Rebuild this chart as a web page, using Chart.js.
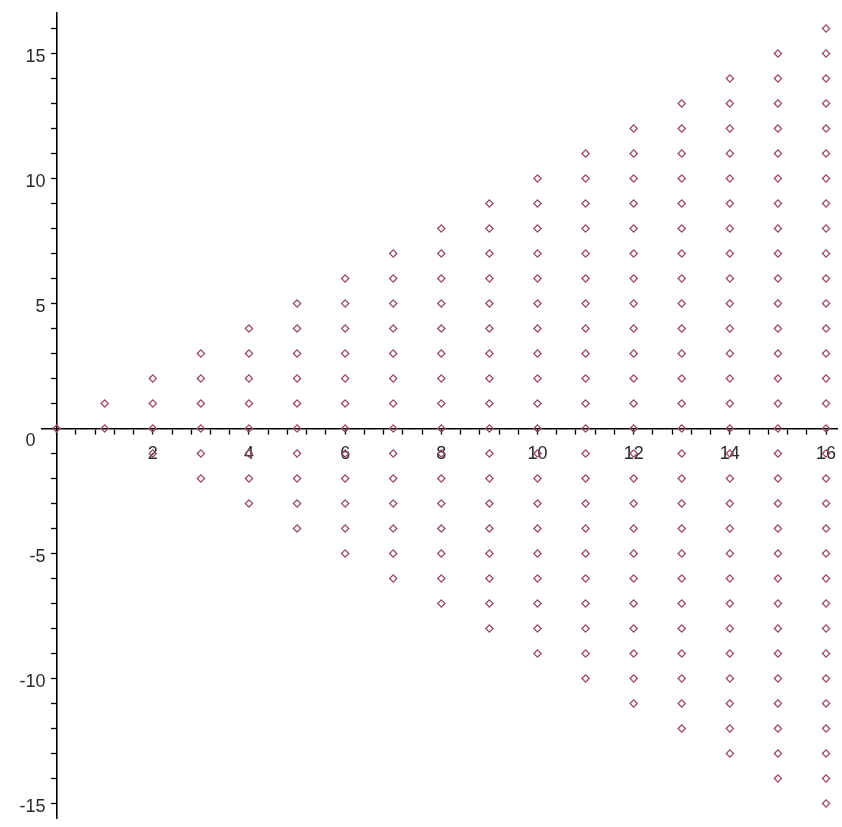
<!DOCTYPE html>
<html>
<head>
<meta charset="utf-8">
<script src="https://cdn.jsdelivr.net/npm/chart.js@4/dist/chart.umd.min.js"></script>
<style>
  html, body { margin: 0; padding: 0; background: #ffffff; }
  canvas { display: block; }
</style>
</head>
<body>
<canvas id="c" width="842" height="827"></canvas>
<script>
// Column x positions and the y-values of the points in each column
const colX = [0, 1, 2, 3, 4, 5, 6, 7, 8, 9, 10, 11, 12, 13, 14, 15, 16];
const col0 = [0];
const col1 = [0, 1];
const col2 = [-1, 0, 1, 2];
const col3 = [-2, -1, 0, 1, 2, 3];
const col4 = [-3, -2, -1, 0, 1, 2, 3, 4];
const col5 = [-4, -3, -2, -1, 0, 1, 2, 3, 4, 5];
const col6 = [-5, -4, -3, -2, -1, 0, 1, 2, 3, 4, 5, 6];
const col7 = [-6, -5, -4, -3, -2, -1, 0, 1, 2, 3, 4, 5, 6, 7];
const col8 = [-7, -6, -5, -4, -3, -2, -1, 0, 1, 2, 3, 4, 5, 6, 7, 8];
const col9 = [-8, -7, -6, -5, -4, -3, -2, -1, 0, 1, 2, 3, 4, 5, 6, 7, 8, 9];
const col10 = [-9, -8, -7, -6, -5, -4, -3, -2, -1, 0, 1, 2, 3, 4, 5, 6, 7, 8, 9, 10];
const col11 = [-10, -9, -8, -7, -6, -5, -4, -3, -2, -1, 0, 1, 2, 3, 4, 5, 6, 7, 8, 9, 10, 11];
const col12 = [-11, -10, -9, -8, -7, -6, -5, -4, -3, -2, -1, 0, 1, 2, 3, 4, 5, 6, 7, 8, 9, 10, 11, 12];
const col13 = [-12, -11, -10, -9, -8, -7, -6, -5, -4, -3, -2, -1, 0, 1, 2, 3, 4, 5, 6, 7, 8, 9, 10, 11, 12, 13];
const col14 = [-13, -12, -11, -10, -9, -8, -7, -6, -5, -4, -3, -2, -1, 0, 1, 2, 3, 4, 5, 6, 7, 8, 9, 10, 11, 12, 13, 14];
const col15 = [-14, -13, -12, -11, -10, -9, -8, -7, -6, -5, -4, -3, -2, -1, 0, 1, 2, 3, 4, 5, 6, 7, 8, 9, 10, 11, 12, 13, 14, 15];
const col16 = [-15, -14, -13, -12, -11, -10, -9, -8, -7, -6, -5, -4, -3, -2, -1, 0, 1, 2, 3, 4, 5, 6, 7, 8, 9, 10, 11, 12, 13, 14, 15, 16];
const columns = [col0, col1, col2, col3, col4, col5, col6, col7, col8, col9, col10, col11, col12, col13, col14, col15, col16];

// Axis ticks
const xTickLabels = [2, 4, 6, 8, 10, 12, 14, 16];
const xMinorTicks = [0, 0.4, 0.8, 1.2, 1.6, 2, 2.4, 2.8, 3.2, 3.6, 4, 4.4, 4.8, 5.2, 5.6, 6, 6.4, 6.8, 7.2, 7.6, 8,
  8.4, 8.8, 9.2, 9.6, 10, 10.4, 10.8, 11.2, 11.6, 12, 12.4, 12.8, 13.2, 13.6, 14, 14.4, 14.8, 15.2, 15.6, 16];
const yTickLabels = [-15, -10, -5, 0, 5, 10, 15];
const yMinorTicks = [-15, -14, -13, -12, -11, -10, -9, -8, -7, -6, -5, -4, -3, -2, -1, 0,
  1, 2, 3, 4, 5, 6, 7, 8, 9, 10, 11, 12, 13, 14, 15, 16];

const points = [];
colX.forEach((x, i) => columns[i].forEach(y => points.push({ x: x, y: y })));

const FONT = '18px "Liberation Sans", Arial, sans-serif';

// y-axis tick labels (Chart.js ignores padding for value-positioned y axes)
const yLabels = {
  id: 'yLabels',
  afterDraw(chart) {
    const ctx = chart.ctx;
    const xs = chart.scales.x, ys = chart.scales.y;
    const ax = xs.getPixelForValue(0);
    ctx.save();
    ctx.font = FONT;
    ctx.fillStyle = '#2a2a2a';
    ctx.textAlign = 'right';
    ctx.textBaseline = 'middle';
    yTickLabels.forEach(v => {
      if (v === 0) {
        ctx.fillText('0', ax - 21, ys.getPixelForValue(0) + 13);
      } else {
        ctx.fillText(String(v), ax - 11, ys.getPixelForValue(v) + 4);
      }
    });
    ctx.restore();
  }
};

new Chart(document.getElementById('c'), {
  type: 'scatter',
  data: {
    datasets: [{
      data: points,
      pointStyle: 'rectRot',
      pointRadius: 3.6,
      pointHoverRadius: 3.6,
      pointBorderWidth: 1.3,
      pointBorderColor: '#9c4860',
      pointBackgroundColor: 'rgba(255,255,255,0)',
      showLine: false
    }]
  },
  options: {
    responsive: false,
    animation: false,
    devicePixelRatio: 1,
    layout: { padding: { left: 42, right: 0, top: 13, bottom: 9 } },
    plugins: { legend: { display: false }, tooltip: { enabled: false } },
    scales: {
      x: {
        type: 'linear',
        position: { y: 0 },
        min: -0.304,
        max: 16.23,
        afterBuildTicks: s => { s.ticks = xMinorTicks.map(v => ({ value: v })); },
        afterFit: s => { s.height = 0; s.paddingLeft = 0; s.paddingRight = 0; },
        grid: { drawOnChartArea: false, drawTicks: true, tickLength: 5, tickColor: '#000', tickWidth: 1.3 },
        border: { display: true, color: '#000', width: 1.6 },
        ticks: {
          autoSkip: false,
          maxRotation: 0,
          padding: 10,
          color: '#2a2a2a',
          font: { family: '"Liberation Sans", Arial, sans-serif', size: 18 },
          callback: v => xTickLabels.includes(Math.round(v * 10) / 10) ? String(Math.round(v)) : ''
        }
      },
      y: {
        type: 'linear',
        position: { x: 0 },
        min: -15.58,
        max: 16.62,
        afterBuildTicks: s => { s.ticks = yMinorTicks.map(v => ({ value: v })); },
        afterFit: s => { s.width = 0; s.paddingTop = 0; s.paddingBottom = 0; },
        grid: { drawOnChartArea: false, drawTicks: true, tickLength: 5, tickColor: '#000', tickWidth: 1.3 },
        border: { display: true, color: '#000', width: 1.6 },
        ticks: { display: false }
      }
    }
  },
  plugins: [yLabels]
});
</script>
</body>
</html>
